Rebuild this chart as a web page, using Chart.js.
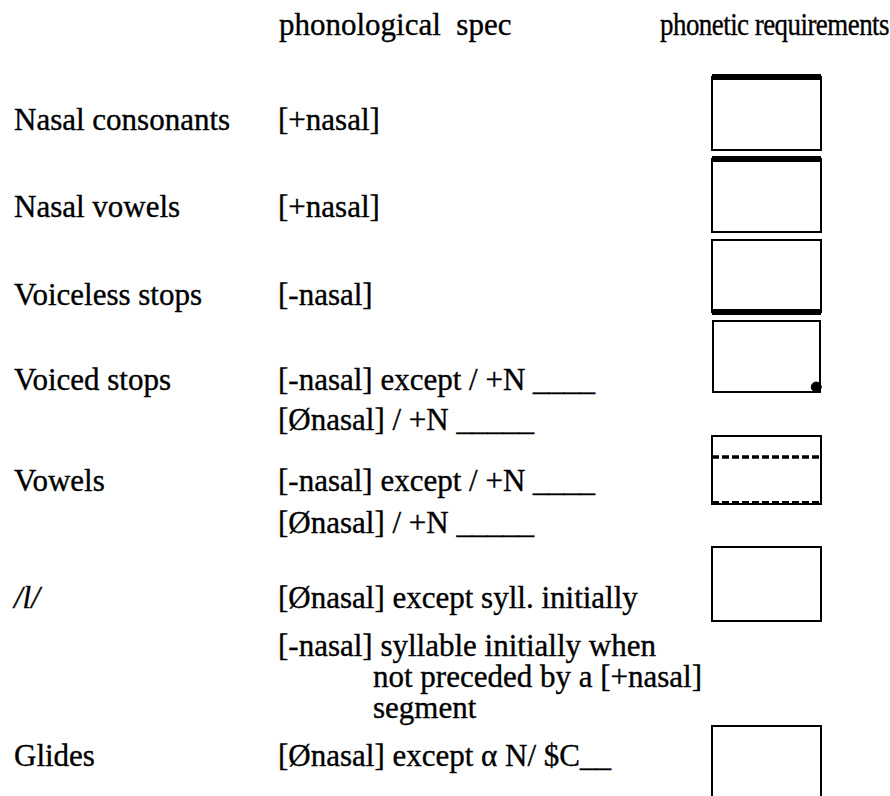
<!DOCTYPE html>
<html>
<head>
<meta charset="utf-8">
<script src="https://cdn.jsdelivr.net/npm/chart.js"></script>
<style>
  body{margin:0;width:890px;height:796px;overflow:hidden;background:#fff;position:relative;
       font-family:"Liberation Serif","Times New Roman",serif;font-size:31px;color:#000}
  .t{position:absolute;white-space:pre;line-height:26px;-webkit-text-stroke:0.35px #000}
  canvas{position:absolute}
</style>
</head>
<body>
<div id="page"></div>
<script>
//column headers
var headers = ['phonological  spec', 'phonetic requirements'];

//segment classes (left column)
var segmentClasses = ['Nasal consonants', 'Nasal vowels', 'Voiceless stops', 'Voiced stops', 'Vowels', '/l/', 'Glides'];

//phonological specification lines for each class
var phonologicalSpecs = [
  ['[+nasal]'],
  ['[+nasal]'],
  ['[-nasal]'],
  ['[-nasal] except / +N ____', '[\u00D8nasal] / +N _____'],
  ['[-nasal] except / +N ____', '[\u00D8nasal] / +N _____'],
  ['[\u00D8nasal] except syll. initially', '[-nasal] syllable initially when', 'not preceded by a [+nasal]', 'segment'],
  ['[\u00D8nasal] except \u03B1 N/ $C__']
];

//phonetic requirement panels: nasal level (0 = oral, 1 = nasal) over normalised time
var timeAxis = [0, 1];
var nasalConsonantFlow = [1, 1];
var nasalVowelFlow = [1, 1];
var voicelessStopFlow = [0, 0];
var voicedStopLeakTime = [0.965];
var voicedStopLeakLevel = [0.07];
var vowelUpperFlow = [0.69, 0.69];
var vowelLowerFlow = [0.02, 0.02];


//layout (pixels) - kept apart from the data
var labelX = 14, specX = 278, indentX = 373;
var headerX = [279, 660];
var headerBaseline = 35;
var specBaselines = [[130], [217], [305], [390, 430], [491, 533], [608, 656], [766]];
var specIndent = [[0], [0], [0], [0, 0], [0, 0], [0, 0, 1, 1], [0]];
var wrapLineHeight = 31;
var boxLeft = 712, boxWidth = 109;
var boxTops = [77, 159, 240, 320, 436, 547, 726];
var boxHeights = [73, 73, 72, 73, 68, 74, 73];
var pad = 5;

var page = document.getElementById('page');

//put a line of text so that its (first) baseline sits at y
function addText(str, x, baseline, italic) {
  var el = document.createElement('div');
  el.className = 't';
  el.textContent = str;
  el.style.left = x + 'px';
  el.style.top = (baseline - 23) + 'px';
  if (italic) el.style.fontStyle = 'italic';
  page.appendChild(el);
  return el;
}

addText(headers[0], headerX[0], headerBaseline);
var h2 = addText(headers[1], headerX[1], headerBaseline);
h2.style.letterSpacing = '-0.6px';
h2.style.transformOrigin = 'left top';
var w = h2.getBoundingClientRect().width;
h2.style.transform = 'scaleX(' + ((889 - headerX[1]) / w) + ')';

segmentClasses.forEach(function (label, i) {
  addText(label, labelX, specBaselines[i][0], label === '/l/');

  //indented lines continue the line before them (one wrapped block)
  var blocks = [];
  phonologicalSpecs[i].forEach(function (line, j) {
    if (specIndent[i][j] && blocks.length) {
      blocks[blocks.length - 1].push(line);
    } else {
      blocks.push([line]);
    }
  });

  blocks.forEach(function (lines, b) {
    if (lines.length === 1) {
      addText(lines[0], specX, specBaselines[i][b]);
    } else {
      var el = addText(lines.join('\n'), indentX, specBaselines[i][b]);
      el.style.lineHeight = wrapLineHeight + 'px';
      el.style.top = (specBaselines[i][b] - 26) + 'px';
      el.style.textIndent = (specX - indentX) + 'px';
    }
  });
});


//datasets for each panel, built from the arrays above
function lineSet(levels, width, dash) {
  return {
    data: timeAxis.map(function (t, k) { return {x: t, y: levels[k]}; }),
    borderColor: '#000',
    borderWidth: width,
    borderDash: dash || [],
    pointRadius: 0,
    borderCapStyle: 'butt',
    clip: false
  };
}

var panelSets = [
  [lineSet(nasalConsonantFlow, 6)],
  [lineSet(nasalVowelFlow, 6)],
  [lineSet(voicelessStopFlow, 6)],
  [{
    data: voicedStopLeakTime.map(function (t, k) { return {x: t, y: voicedStopLeakLevel[k]}; }),
    showLine: false,
    pointRadius: 5,
    pointBackgroundColor: '#000',
    pointBorderColor: '#000',
    clip: false
  }],
  [lineSet(vowelUpperFlow, 3.5, [7, 3]), lineSet(vowelLowerFlow, 3.5, [7, 3])],
  [],
  []
];

function edge(pos, axis) {
  return {
    type: 'linear', axis: axis, position: pos, min: 0, max: 1,
    grid: {display: false, drawTicks: false},
    ticks: {display: false},
    border: {display: true, color: '#000', width: 2}
  };
}

panelSets.forEach(function (sets, i) {
  var c = document.createElement('canvas');
  c.width = boxWidth + pad * 2;
  c.height = boxHeights[i] + pad * 2;
  c.style.left = (boxLeft - pad) + 'px';
  c.style.top = (boxTops[i] - pad) + 'px';
  c.style.width = c.width + 'px';
  c.style.height = c.height + 'px';
  page.appendChild(c);

  new Chart(c, {
    type: 'line',
    data: {datasets: sets},
    options: {
      responsive: false,
      animation: false,
      events: [],
      layout: {padding: pad},
      plugins: {legend: {display: false}, tooltip: {enabled: false}},
      scales: {
        x: edge('bottom', 'x'),
        xTop: edge('top', 'x'),
        y: edge('left', 'y'),
        yRight: edge('right', 'y')
      }
    }
  });
});
</script>
</body>
</html>
